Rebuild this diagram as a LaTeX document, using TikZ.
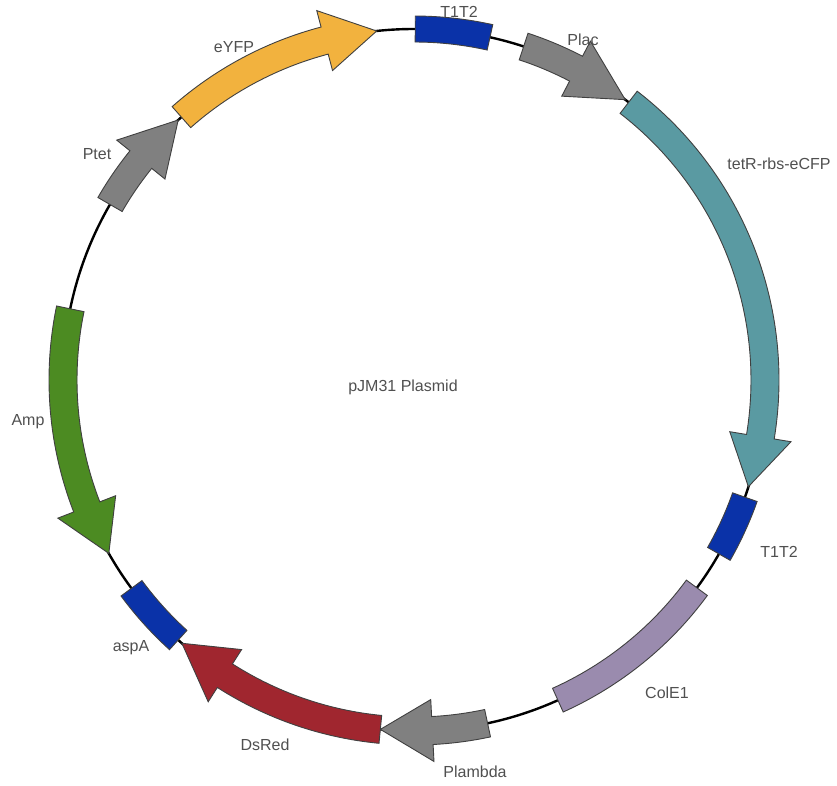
\documentclass[tikz,border=0pt]{standalone}
\usepackage{fontspec}
\setmainfont{Liberation Sans}
\definecolor{cyfp}{RGB}{242,178,62}
\definecolor{cgray}{RGB}{128,128,128}
\definecolor{cteal}{RGB}{90,154,162}
\definecolor{cblue}{RGB}{10,50,168}
\definecolor{cpurple}{RGB}{154,139,174}
\definecolor{cred}{RGB}{160,38,47}
\definecolor{cgreen}{RGB}{76,139,34}
\definecolor{ctext}{RGB}{80,80,80}
\newcommand\plasarrow[4]{%
  \filldraw[featline, fill=#4] (#1:337) arc[start angle=#1, end angle=#2, radius=337]
    -- (#2:320) -- (#3:351) -- (#2:382) -- (#2:365)
    arc[start angle=#2, end angle=#1, radius=365] -- cycle;}
\newcommand\plasbox[3]{%
  \filldraw[featline, fill=#3] (#1:338) arc[start angle=#1, end angle=#2, radius=338]
    -- (#2:364) arc[start angle=#2, end angle=#1, radius=364] -- cycle;}
\begin{document}
\begin{tikzpicture}[x=1pt, y=1pt,
  featline/.style={draw=black!75, line width=0.9pt, line join=miter},
  lbl/.style={text=ctext, font=\fontsize{16}{19}\selectfont, inner sep=0pt}]
\useasboundingbox (-414,-405) rectangle (423,380);
\draw[line width=2.4pt] (0,0) circle[radius=351];
% arrows: tail, head base, tip
\plasarrow{131.5}{104.75}{96.1}{cyfp}
\plasarrow{71.8}{62.5}{53}{cgray}
\plasarrow{52.3}{-9.3}{-17.7}{cteal}
\plasarrow{-77.9}{-87}{-95.5}{cgray}
\plasarrow{-95.5}{-122.6}{-131.4}{cred}
\plasarrow{168.3}{201.2}{209.6}{cgreen}
\plasarrow{150}{141.1}{132.2}{cgray}
% boxes
\plasbox{89.8}{77.5}{cblue}
\plasbox{-19.5}{-29.7}{cblue}
\plasbox{-36.3}{-65.8}{cpurple}
\plasbox{-132.2}{-143.6}{cblue}
% labels
\node[lbl] (lt1) at (45,368) {T1T2};
\node[lbl] (lplac) at (169,340) {Plac};
\node[lbl] (ltetr) at (365,216) {tetR-rbs-eCFP};
\node[lbl] (lt2) at (365,-172) {T1T2};
\node[lbl] (lcol) at (253,-313) {ColE1};
\node[lbl] (lplam) at (61,-392) {Plambda};
\node[lbl] (lds) at (-149,-365) {DsRed};
\node[lbl] (lasp) at (-283,-268) {aspA};
\node[lbl] (lamp) at (-386,-42) {Amp};
\node[lbl] (lptet) at (-317,226) {Ptet};
\node[lbl] (lyfp) at (-180,333) {eYFP};
\node[lbl] (ltitle) at (-11,-7) {pJM31 Plasmid};
\end{tikzpicture}
\end{document}
